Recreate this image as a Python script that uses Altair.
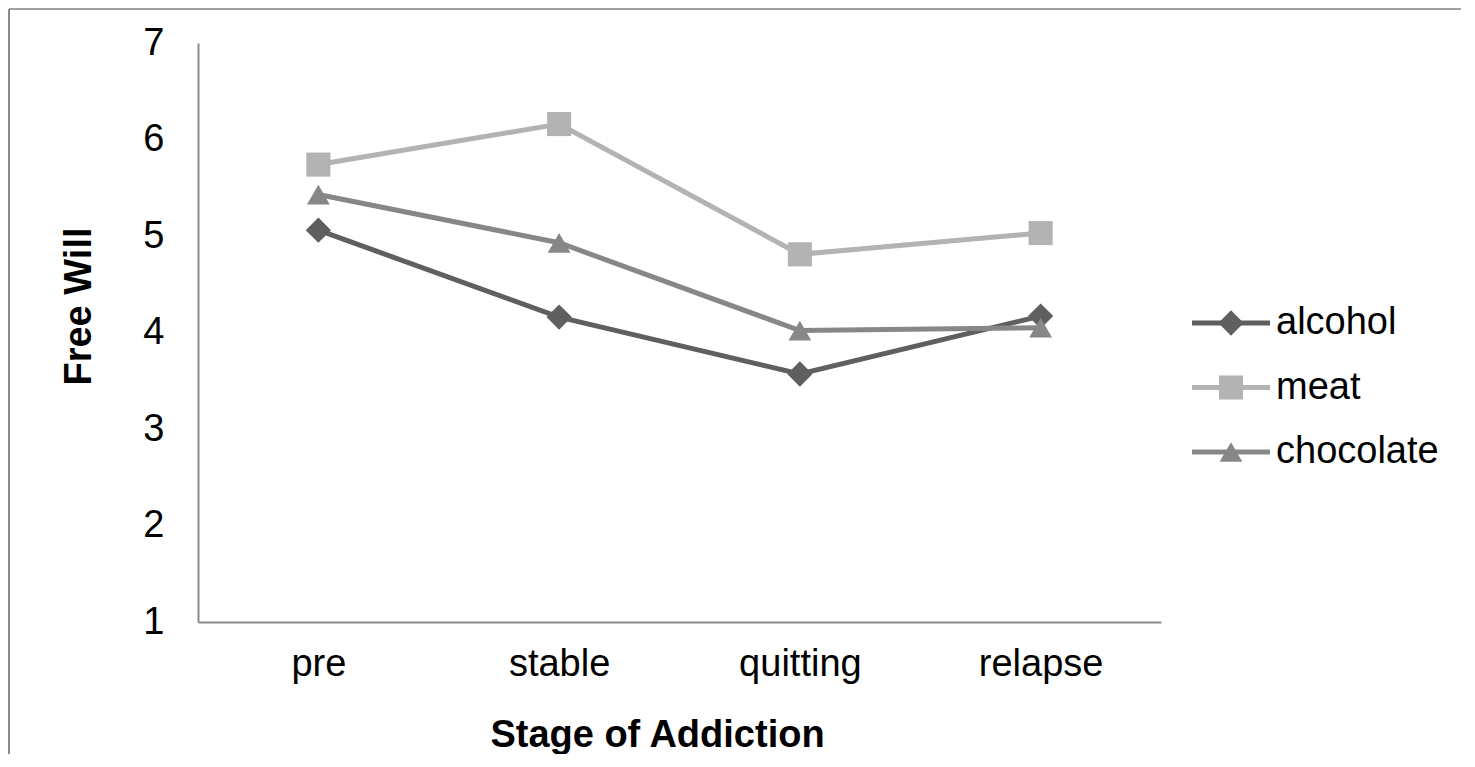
import altair as alt
import pandas as pd

# ---- data ----
stages = ["pre", "stable", "quitting", "relapse"]
series = ["alcohol", "meat", "chocolate"]
alcohol = [5.06, 4.16, 3.57, 4.17]
meat = [5.74, 6.16, 4.81, 5.03]
chocolate = [5.43, 4.93, 4.02, 4.05]
y_ticks = [1, 2, 3, 4, 5, 6, 7]

colors = ["#5f5f5f", "#b3b3b3", "#878787"]
shapes = ["diamond", "square", "triangle-up"]
marker_sizes = [640, 520, 1050]
FONT = "Liberation Sans"
FS = 38
LW = 5

rows = []
for name, vals in zip(series, [alcohol, meat, chocolate]):
    for st, v in zip(stages, vals):
        rows.append({"series": name, "stage": st, "value": v})
df = pd.DataFrame(rows)

color_scale = alt.Scale(domain=series, range=colors)
shape_scale = alt.Scale(domain=series, range=shapes)
size_scale = alt.Scale(domain=series, range=marker_sizes)

x_enc = alt.X(
    "stage:N",
    sort=stages,
    scale=alt.Scale(domain=stages),
    axis=alt.Axis(
        title="Stage of Addiction",
        labelAngle=0,
        labelPadding=23,
        titleX=459,
        titleY=113,
        titleAlign="center",
        titleBaseline="middle",
    ),
)
y_enc = alt.Y(
    "value:Q",
    scale=alt.Scale(domain=[1, 7], nice=False, zero=False),
    axis=alt.Axis(
        title="Free Will",
        values=y_ticks,
        format="d",
        labelPadding=34,
        titleX=-119,
        titleY=263,
        titleAngle=270,
        titleAlign="center",
        titleBaseline="middle",
    ),
)

lines = alt.Chart(df).mark_line(strokeWidth=LW).encode(
    x=x_enc,
    y=y_enc,
    color=alt.Color("series:N", scale=color_scale, legend=None),
    detail="series:N",
)
points = alt.Chart(df).mark_point(filled=True, opacity=1, strokeWidth=0).encode(
    x=alt.X("stage:N", sort=stages, scale=alt.Scale(domain=stages)),
    y=alt.Y("value:Q", scale=alt.Scale(domain=[1, 7], nice=False, zero=False)),
    color=alt.Color("series:N", scale=color_scale, legend=None),
    shape=alt.Shape("series:N", scale=shape_scale, legend=None),
    size=alt.Size("series:N", scale=size_scale, legend=None),
)
main = alt.layer(lines, points)

# ---- hand-made legend, drawn through its own scales ----
leg = pd.DataFrame({"series": series, "x0": [0.0] * 3, "xm": [0.5] * 3, "x1": [1.0] * 3})
lx = alt.Scale(domain=[0, 1], range=[994, 1072])
ly = alt.Scale(type="point", domain=series, range=[280, 409], padding=0)

leg_rule = alt.Chart(leg).mark_rule(strokeWidth=LW).encode(
    x=alt.X("x0:Q", scale=lx, axis=None),
    x2="x1:Q",
    y=alt.Y("series:N", scale=ly, axis=None),
    color=alt.Color("series:N", scale=color_scale, legend=None),
)
leg_pt = alt.Chart(leg).mark_point(filled=True, opacity=1, strokeWidth=0).encode(
    x=alt.X("xm:Q", scale=lx, axis=None),
    y=alt.Y("series:N", scale=ly, axis=None),
    color=alt.Color("series:N", scale=color_scale, legend=None),
    shape=alt.Shape("series:N", scale=shape_scale, legend=None),
    size=alt.Size("series:N", scale=size_scale, legend=None),
)
leg_txt = alt.Chart(leg).mark_text(
    align="left", baseline="middle", dx=6, fontSize=FS, font=FONT, color="black"
).encode(
    x=alt.X("x1:Q", scale=lx, axis=None),
    y=alt.Y("series:N", scale=ly, axis=None),
    text="series:N",
)
legend = alt.layer(leg_rule, leg_pt, leg_txt)

# ---- outer frame (decoration) ----
frame_data = alt.Data(values=[{"k": 1}])
frame_top = alt.Chart(frame_data).mark_rule(color="#a0a0a0", strokeWidth=2).encode(
    x=alt.value(-189), x2=alt.value(1300), y=alt.value(-34)
)
frame_left = alt.Chart(frame_data).mark_rule(color="#8a8a8a", strokeWidth=2).encode(
    x=alt.value(-189), y=alt.value(-34), y2=alt.value(800)
)
frame = alt.layer(frame_top, frame_left)

chart = (
    alt.layer(main, legend, frame)
    .resolve_scale(x="independent", y="independent")
    .properties(
        width=963,
        height=579,
        padding={"left": 190, "top": 35, "right": 300, "bottom": 132},
        autosize=alt.AutoSizeParams(type="none"),
        background="white",
    )
    .configure_view(stroke=None)
    .configure_axis(
        grid=False,
        ticks=False,
        tickSize=0,
        domainColor="#8c8c8c",
        domainWidth=2,
        labelColor="black",
        labelFont=FONT,
        labelFontSize=FS,
        titleFont=FONT,
        titleFontSize=FS,
        titleFontWeight="bold",
        titleColor="black",
    )
)

chart.save("out.html", embed_options={"renderer": "svg", "actions": False})
